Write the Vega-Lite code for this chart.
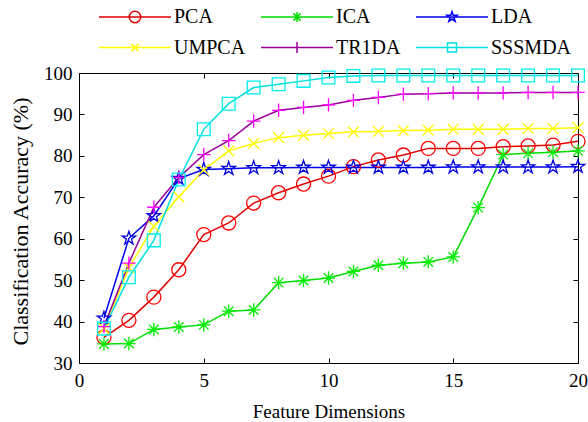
{
  "$schema": "https://vega.github.io/schema/vega-lite/v6.json",
  "width": 499,
  "height": 290,
  "autosize": "none",
  "padding": {"left": 79, "top": 73, "right": 10, "bottom": 59},
  "background": "white",
  "config": {
    "view": {"stroke": null},
    "font": "Liberation Serif",
    "axis": {
      "labelFont": "Liberation Serif",
      "labelFontSize": 19,
      "labelColor": "black",
      "labelFlush": false,
      "titleFont": "Liberation Serif",
      "titleFontSize": 19,
      "titleFontWeight": "normal",
      "titleColor": "black",
      "domainColor": "black",
      "domainWidth": 1,
      "tickColor": "black",
      "tickWidth": 1,
      "tickSize": -5,
      "grid": false
    }
  },
  "data": {"values": [
    {"x":1,"m":"PCA","v":36.2},{"x":2,"m":"PCA","v":40.3},{"x":3,"m":"PCA","v":45.9},{"x":4,"m":"PCA","v":52.5},{"x":5,"m":"PCA","v":61.0},
    {"x":6,"m":"PCA","v":63.8},{"x":7,"m":"PCA","v":68.6},{"x":8,"m":"PCA","v":71.1},{"x":9,"m":"PCA","v":73.2},{"x":10,"m":"PCA","v":75.1},
    {"x":11,"m":"PCA","v":77.4},{"x":12,"m":"PCA","v":79.0},{"x":13,"m":"PCA","v":80.2},{"x":14,"m":"PCA","v":81.8},{"x":15,"m":"PCA","v":81.8},
    {"x":16,"m":"PCA","v":81.8},{"x":17,"m":"PCA","v":82.2},{"x":18,"m":"PCA","v":82.4},{"x":19,"m":"PCA","v":82.6},{"x":20,"m":"PCA","v":83.5},
    {"x":1,"m":"ICA","v":34.6},{"x":2,"m":"ICA","v":34.7},{"x":3,"m":"ICA","v":38.1},{"x":4,"m":"ICA","v":38.7},{"x":5,"m":"ICA","v":39.2},
    {"x":6,"m":"ICA","v":42.5},{"x":7,"m":"ICA","v":42.8},{"x":8,"m":"ICA","v":49.4},{"x":9,"m":"ICA","v":49.9},{"x":10,"m":"ICA","v":50.5},
    {"x":11,"m":"ICA","v":52.1},{"x":12,"m":"ICA","v":53.6},{"x":13,"m":"ICA","v":54.1},{"x":14,"m":"ICA","v":54.4},{"x":15,"m":"ICA","v":55.6},
    {"x":16,"m":"ICA","v":67.5},{"x":17,"m":"ICA","v":80.3},{"x":18,"m":"ICA","v":80.6},{"x":19,"m":"ICA","v":80.9},{"x":20,"m":"ICA","v":81.2},
    {"x":1,"m":"LDA","v":40.8},{"x":2,"m":"LDA","v":60.1},{"x":3,"m":"LDA","v":65.5},{"x":4,"m":"LDA","v":74.5},{"x":5,"m":"LDA","v":76.7},
    {"x":6,"m":"LDA","v":76.9},{"x":7,"m":"LDA","v":77.1},{"x":8,"m":"LDA","v":77.1},{"x":9,"m":"LDA","v":77.2},{"x":10,"m":"LDA","v":77.2},
    {"x":11,"m":"LDA","v":77.2},{"x":12,"m":"LDA","v":77.2},{"x":13,"m":"LDA","v":77.2},{"x":14,"m":"LDA","v":77.2},{"x":15,"m":"LDA","v":77.3},
    {"x":16,"m":"LDA","v":77.3},{"x":17,"m":"LDA","v":77.3},{"x":18,"m":"LDA","v":77.3},{"x":19,"m":"LDA","v":77.3},{"x":20,"m":"LDA","v":77.4},
    {"x":1,"m":"UMPCA","v":38.3},{"x":2,"m":"UMPCA","v":53.0},{"x":3,"m":"UMPCA","v":63.0},{"x":4,"m":"UMPCA","v":70.1},{"x":5,"m":"UMPCA","v":76.6},
    {"x":6,"m":"UMPCA","v":81.2},{"x":7,"m":"UMPCA","v":83.0},{"x":8,"m":"UMPCA","v":84.4},{"x":9,"m":"UMPCA","v":85.0},{"x":10,"m":"UMPCA","v":85.4},
    {"x":11,"m":"UMPCA","v":85.8},{"x":12,"m":"UMPCA","v":85.9},{"x":13,"m":"UMPCA","v":86.1},{"x":14,"m":"UMPCA","v":86.2},{"x":15,"m":"UMPCA","v":86.4},
    {"x":16,"m":"UMPCA","v":86.4},{"x":17,"m":"UMPCA","v":86.4},{"x":18,"m":"UMPCA","v":86.6},{"x":19,"m":"UMPCA","v":86.6},{"x":20,"m":"UMPCA","v":86.8},
    {"x":1,"m":"TR1DA","v":38.8},{"x":2,"m":"TR1DA","v":54.1},{"x":3,"m":"TR1DA","v":67.6},{"x":4,"m":"TR1DA","v":74.8},{"x":5,"m":"TR1DA","v":80.3},
    {"x":6,"m":"TR1DA","v":83.7},{"x":7,"m":"TR1DA","v":88.4},{"x":8,"m":"TR1DA","v":91.0},{"x":9,"m":"TR1DA","v":91.7},{"x":10,"m":"TR1DA","v":92.3},
    {"x":11,"m":"TR1DA","v":93.4},{"x":12,"m":"TR1DA","v":94.1},{"x":13,"m":"TR1DA","v":94.9},{"x":14,"m":"TR1DA","v":95.0},{"x":15,"m":"TR1DA","v":95.2},
    {"x":16,"m":"TR1DA","v":95.2},{"x":17,"m":"TR1DA","v":95.2},{"x":18,"m":"TR1DA","v":95.3},{"x":19,"m":"TR1DA","v":95.3},{"x":20,"m":"TR1DA","v":95.3},
    {"x":1,"m":"SSSMDA","v":38.3},{"x":2,"m":"SSSMDA","v":50.7},{"x":3,"m":"SSSMDA","v":59.6},{"x":4,"m":"SSSMDA","v":74.3},{"x":5,"m":"SSSMDA","v":86.4},
    {"x":6,"m":"SSSMDA","v":92.6},{"x":7,"m":"SSSMDA","v":96.5},{"x":8,"m":"SSSMDA","v":97.3},{"x":9,"m":"SSSMDA","v":98.1},{"x":10,"m":"SSSMDA","v":98.9},
    {"x":11,"m":"SSSMDA","v":99.3},{"x":12,"m":"SSSMDA","v":99.4},{"x":13,"m":"SSSMDA","v":99.4},{"x":14,"m":"SSSMDA","v":99.4},{"x":15,"m":"SSSMDA","v":99.4},
    {"x":16,"m":"SSSMDA","v":99.4},{"x":17,"m":"SSSMDA","v":99.4},{"x":18,"m":"SSSMDA","v":99.4},{"x":19,"m":"SSSMDA","v":99.4},{"x":20,"m":"SSSMDA","v":99.4}
  ]},
  "layer": [
    {
      "mark": {"type": "line", "strokeWidth": 1.5},
      "encoding": {
        "x": {"field": "x", "type": "quantitative",
              "scale": {"domain": [0, 20], "nice": false, "zero": false},
              "axis": {"orient": "bottom", "values": [0, 5, 10, 15, 20], "labelPadding": 13,
                       "title": "Feature Dimensions", "titleX": 249.5, "titleY": 54.4,
                       "titleBaseline": "alphabetic", "titleAnchor": null}},
        "y": {"field": "v", "type": "quantitative",
              "scale": {"domain": [30, 100], "nice": false, "zero": false},
              "axis": {"orient": "left", "values": [30, 40, 50, 60, 70, 80, 90, 100], "labelPadding": 12,
                       "title": "Classification Accuracy (%)", "titleX": -51.7, "titleY": 148,
                       "titleFontSize": 22,
                       "titleBaseline": "alphabetic", "titleAngle": -90, "titleAnchor": null}},
        "stroke": {"field": "m", "type": "nominal",
                   "scale": {"domain": ["PCA", "ICA", "LDA", "UMPCA", "TR1DA", "SSSMDA"],
                             "range": ["#e00000", "#00dd00", "#0000ee", "#ffff00", "#9a009a", "#00e0e0"]},
                   "legend": {
                     "orient": "none", "legendX": 20, "legendY": -66, "columns": 3, "direction": "horizontal", "title": null,
                     "padding": 0, "symbolSize": 144, "symbolStrokeWidth": 1.5,
                     "symbolOffset": 0, "labelOffset": 0, "columnPadding": 12, "rowPadding": 10.5,
                     "labelFont": "Liberation Serif", "labelFontSize": 20, "labelColor": "black",
                     "labelLimit": 200,
                     "encode": {
                       "labels": {"update": {"x": {"value": 75}, "align": {"value": "left"}}},
                       "symbols": {"update": {
                       "x": {"value": 36},
                       "fill": {"value": "transparent"},
                       "shape": {"signal": "datum.value === 'PCA' ? 'M-6,0L6,0M-0.95,0A0.95,0.95 0 1,1 0.95,0A0.95,0.95 0 1,1 -0.95,0Z' : datum.value === 'ICA' ? 'M-6,0L6,0M0,-0.85L0,0.85M-0.6,-0.6L0.6,0.6M-0.6,0.6L0.6,-0.6' : datum.value === 'LDA' ? 'M-6,0L6,0M0,-0.9L0.2,-0.28L0.86,-0.28L0.33,0.11L0.53,0.73L0,0.34L-0.53,0.73L-0.33,0.11L-0.86,-0.28L-0.2,-0.28Z' : datum.value === 'UMPCA' ? 'M-6,0L6,0M-0.6,-0.6L0.6,0.6M-0.6,0.6L0.6,-0.6' : datum.value === 'TR1DA' ? 'M-6,0L6,0M0,-0.9L0,0.9' : 'M-6,0L6,0M-0.75,-0.75L0.75,-0.75L0.75,0.75L-0.75,0.75Z'"}
                     }}}
                   }}
      }
    },
    {
      "mark": {"type": "point", "filled": false, "strokeWidth": 1.3, "size": 180, "opacity": 1},
      "encoding": {
        "x": {"field": "x", "type": "quantitative",
              "axis": {"orient": "top", "values": [0, 5, 10, 15, 20], "labels": false, "title": null}},
        "y": {"field": "v", "type": "quantitative",
              "axis": {"orient": "right", "values": [30, 40, 50, 60, 70, 80, 90, 100], "labels": false, "title": null}},
        "stroke": {"field": "m", "type": "nominal", "legend": null,
                   "scale": {"domain": ["PCA", "ICA", "LDA", "UMPCA", "TR1DA", "SSSMDA"],
                             "range": ["#ff0000", "#00ee00", "#0000dd", "#ffff00", "#ff00ff", "#00eeee"]}},
        "shape": {"field": "m", "type": "nominal", "legend": null,
                  "scale": {"domain": ["PCA", "ICA", "LDA", "UMPCA", "TR1DA", "SSSMDA"],
                            "range": [
                              "M-1.05,0A1.05,1.05 0 1,1 1.05,0A1.05,1.05 0 1,1 -1.05,0Z",
                              "M-1,0L1,0M0,-1L0,1M-0.71,-0.71L0.71,0.71M-0.71,0.71L0.71,-0.71",
                              "M0,-1.05L0.24,-0.33L1,-0.33L0.38,0.12L0.62,0.85L0,0.4L-0.62,0.85L-0.38,0.12L-1,-0.33L-0.24,-0.33Z",
                              "M-0.8,-0.8L0.8,0.8M-0.8,0.8L0.8,-0.8",
                              "M-1,0L1,0M0,-1L0,1",
                              "M-0.95,-0.95L0.95,-0.95L0.95,0.95L-0.95,0.95Z"
                            ]}}
      }
    }
  ],
  "resolve": {
    "scale": {"stroke": "independent", "shape": "independent"},
    "axis": {"x": "independent", "y": "independent"}
  }
}
